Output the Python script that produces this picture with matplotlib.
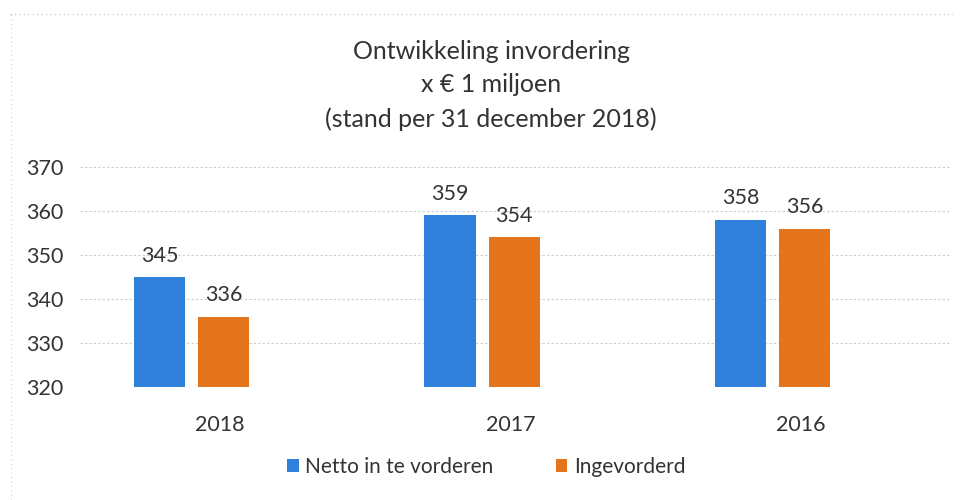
import matplotlib
matplotlib.use('Agg')
import matplotlib.pyplot as plt
import numpy as np

# data
years = ['2018', '2017', '2016']
netto = [345, 359, 358]
geind = [336, 354, 356]
series_names = ['Netto in te vorderen', 'Ingevorderd']
yticks = [320, 330, 340, 350, 360, 370]

plt.rcParams['font.family'] = ['Lato', 'DejaVu Sans']
text_col = '#333333'
blue = '#2f80db'
orange = '#e5751c'

fig = plt.figure(figsize=(9.63, 5), dpi=100)
ax = fig.add_axes([0.083, 0.226, 0.904, 0.44])

x = np.arange(len(years))
w = 0.176
b1 = ax.bar(x - 0.109, np.array(netto) - 320, w, bottom=320, color=blue, label=series_names[0])
b2 = ax.bar(x + 0.112, np.array(geind) - 320, w, bottom=320, color=orange, label=series_names[1])

for xs, vals in ((x - 0.109, netto), (x + 0.112, geind)):
    for xi, v in zip(xs, vals):
        ax.text(xi, v + 2.6, str(v), ha='center', va='bottom', fontsize=15.5, color=text_col)

ax.set_ylim(320, 370)
ax.set_xlim(-0.383, 2.614)
ax.set_yticks(yticks)
ax.set_xticks(x + 0.1)
ax.set_xticklabels(years)
ax.tick_params(axis='y', length=0, pad=12, labelsize=15.5, labelcolor=text_col)
ax.tick_params(axis='x', length=0, pad=20, labelsize=15.5, labelcolor=text_col)
ax.yaxis.grid(True, color='#cccccc', linestyle=(0, (2, 2)), linewidth=0.8)
ax.set_axisbelow(True)
for s in ax.spines.values():
    s.set_visible(False)

fig.text(0.51, 0.897, 'Ontwikkeling invordering', ha='center', va='center', fontsize=18, color=text_col)
fig.text(0.51, 0.832, 'x € 1 miljoen', ha='center', va='center', fontsize=18, color=text_col)
fig.text(0.51, 0.762, '(stand per 31 december 2018)', ha='center', va='center', fontsize=18, color=text_col)

# faint frame of the original chart area
fig.add_artist(plt.Line2D([0.01, 0.99], [0.972, 0.972], color='#bbbbbb', lw=0.8,
                          linestyle=(0, (1, 3)), transform=fig.transFigure))
fig.add_artist(plt.Line2D([0.011, 0.011], [0.0, 0.972], color='#cccccc', lw=0.8,
                          linestyle=(0, (1, 3)), transform=fig.transFigure))

fig.legend(handles=[b1, b2], loc='center', bbox_to_anchor=(0.505, 0.066), ncol=2,
           frameon=False, fontsize=15, handlelength=0.55, handleheight=0.55,
           handletextpad=0.3, columnspacing=3.0, labelcolor=text_col)

fig.savefig('out.png', dpi=100, facecolor='white')
